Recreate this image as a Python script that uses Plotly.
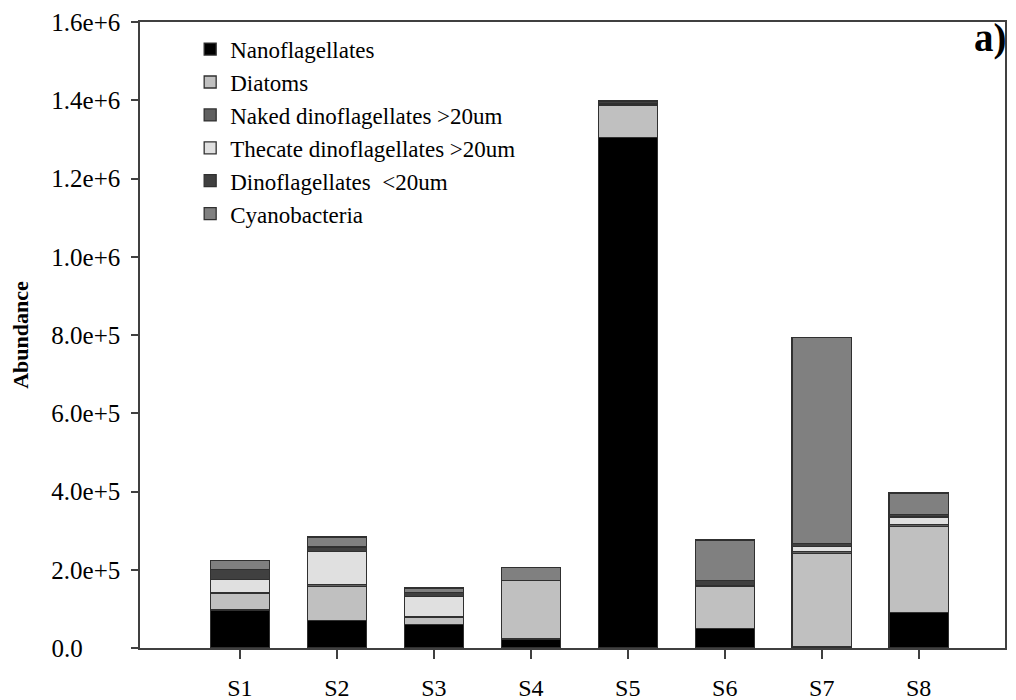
import plotly.graph_objects as go

stations = ["S1", "S2", "S3", "S4", "S5", "S6", "S7", "S8"]
positions = [1, 2, 3, 4, 5, 6, 7, 8]

nanoflagellates = [97000, 70000, 60000, 23000, 1305000, 50000, 3000, 90000]
diatoms = [42500, 88000, 19000, 149000, 83000, 108000, 239000, 220000]
naked_dino = [1000, 5000, 1500, 0, 4000, 2000, 5000, 5000]
thecate_dino = [34500, 83000, 52000, 0, 0, 0, 12000, 19500]
dino_small = [25500, 12000, 8500, 0, 6000, 12000, 8000, 7000]
cyanobacteria = [23500, 26000, 12000, 34000, 0, 104000, 527000, 55000]

series_names = ["Nanoflagellates", "Diatoms", "Naked dinoflagellates >20um",
                "Thecate dinoflagellates >20um", "Dinoflagellates  <20um", "Cyanobacteria"]
series_values = [nanoflagellates, diatoms, naked_dino, thecate_dino, dino_small, cyanobacteria]
series_colors = ["#000000", "#c0c0c0", "#606060", "#e0e0e0", "#404040", "#808080"]

y_tickvals = [0, 200000, 400000, 600000, 800000, 1000000, 1200000, 1400000, 1600000]
y_ticktext = ["0.0\u2007\u2007\u2007", "2.0e+5", "4.0e+5", "6.0e+5", "8.0e+5",
              "1.0e+6", "1.2e+6", "1.4e+6", "1.6e+6"]

FONT = "Liberation Serif, Times New Roman, serif"

fig = go.Figure()
for name, vals, col in zip(series_names, series_values, series_colors):
    fig.add_trace(go.Bar(
        x=positions, y=vals, name=name, width=0.61,
        marker=dict(color=col, line=dict(color="#303030", width=1.3)),
    ))

fig.update_layout(
    barmode="stack",
    width=1016, height=700,
    margin=dict(l=132, r=19, t=14, b=60),
    plot_bgcolor="white", paper_bgcolor="white",
    font=dict(family=FONT, size=23, color="#000000"),
    showlegend=True,
    legend=dict(
        x=0.058, y=0.991, xanchor="left", yanchor="top",
        bgcolor="rgba(0,0,0,0)", font=dict(family=FONT, size=23, color="#000000"),
        tracegroupgap=0, traceorder="normal",
    ),
    xaxis=dict(
        range=[-0.03, 8.89], tickvals=positions, ticktext=stations, automargin=False,
        showgrid=False, zeroline=False, showline=True, linecolor="#404040", linewidth=1.5,
        mirror=True, ticks="outside", ticklen=9, tickwidth=1.5, tickcolor="#404040",
        ticklabelstandoff=8, ticklabeloverflow="allow",
        tickfont=dict(family=FONT, size=24, color="#000000"),
    ),
    yaxis=dict(
        range=[0, 1600000], tickvals=y_tickvals, ticktext=y_ticktext, automargin=False,
        showgrid=False, zeroline=False, showline=True, linecolor="#404040", linewidth=1.5,
        mirror=True, ticks="outside", ticklen=7, tickwidth=1.5, tickcolor="#404040",
        ticklabelstandoff=6, ticklabeloverflow="allow",
        tickfont=dict(family=FONT, size=25, color="#000000"),
        title=dict(text="<b>Abundance</b>", font=dict(family=FONT, size=22, color="#000000"), standoff=26),
    ),
    annotations=[dict(
        text="<b>a)</b>", x=1.005, y=0.975, xref="paper", yref="paper",
        xanchor="right", yanchor="middle", showarrow=False,
        font=dict(family=FONT, size=39, color="#000000"),
    )],
)

fig.write_html("out.html")
